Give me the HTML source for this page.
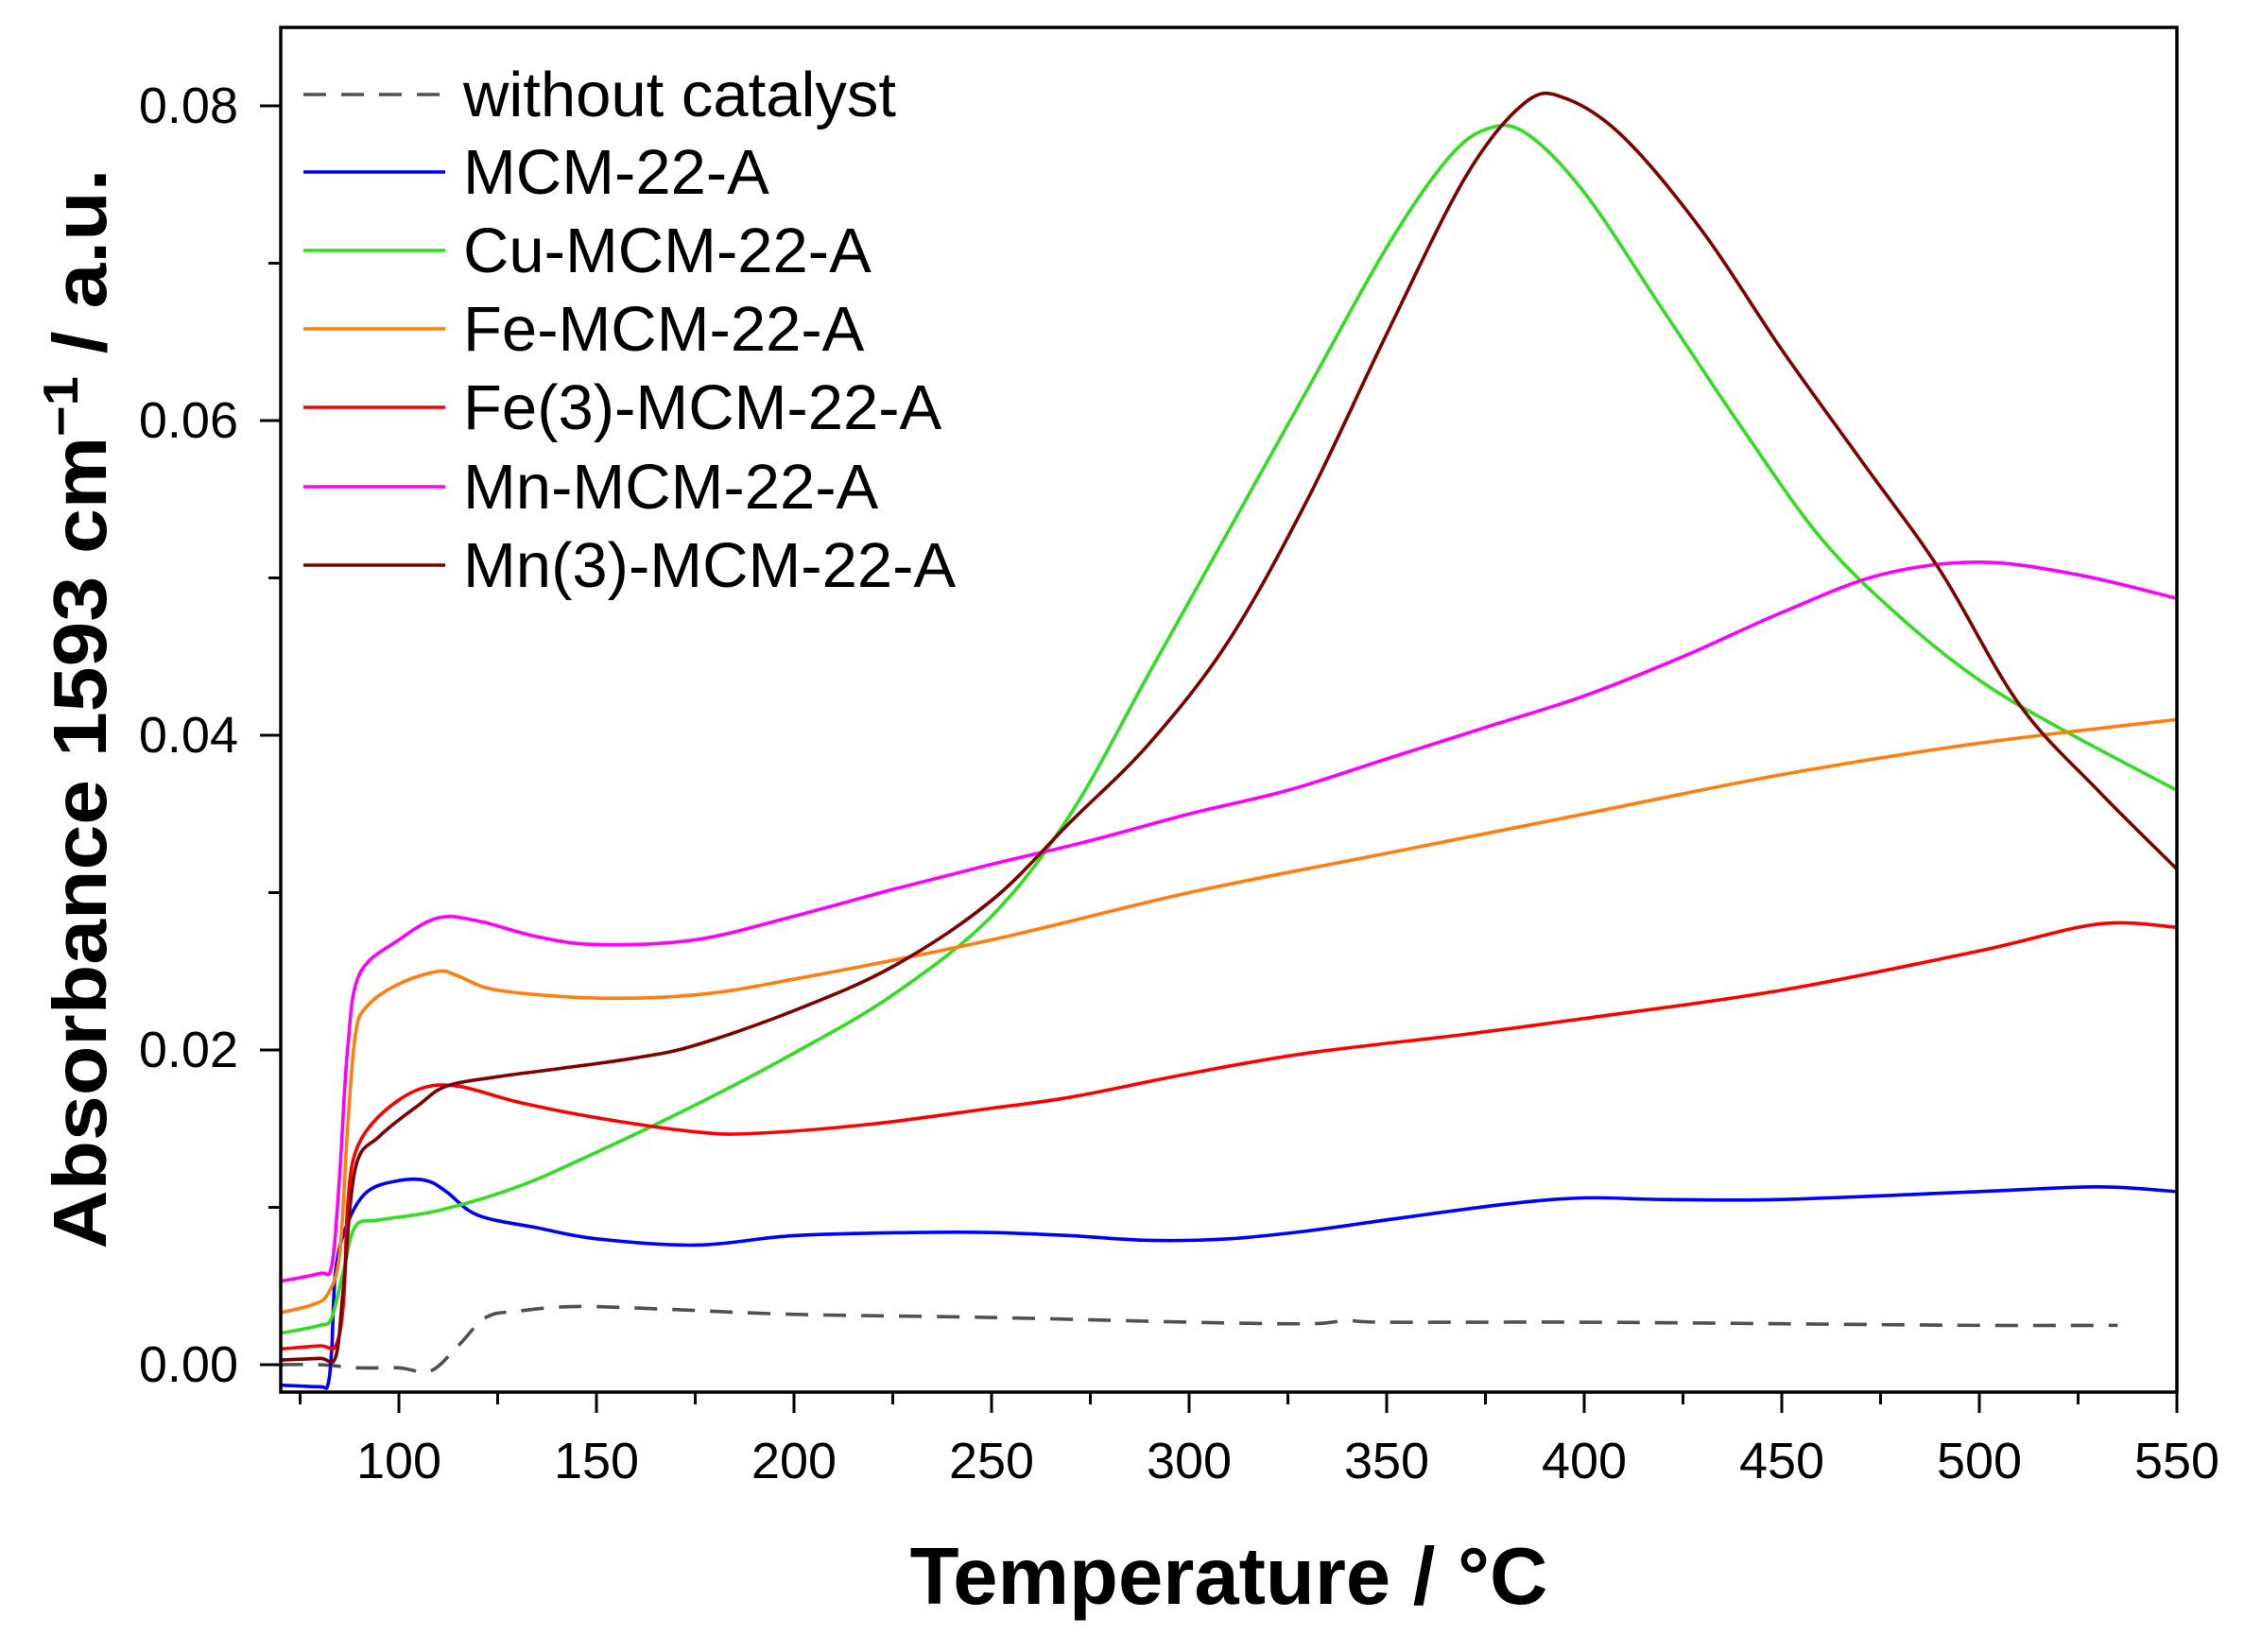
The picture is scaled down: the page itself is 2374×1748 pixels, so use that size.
<!DOCTYPE html>
<html><head><meta charset="utf-8"><style>
html,body{margin:0;padding:0;background:#fff;}
svg{display:block;font-family:"Liberation Sans",Arial,sans-serif;}
</style></head><body>
<svg id="s" width="2374" height="1748" viewBox="0 0 2374 1748" xmlns="http://www.w3.org/2000/svg">
<rect width="2374" height="1748" fill="#fff"/>
<g id="curves" fill="none" stroke-width="3.6" stroke-linejoin="round"></g>
<rect x="297" y="29" width="2006" height="1444" fill="none" stroke="#000" stroke-width="3.5"/>
<g id="ticks" stroke="#000" stroke-width="3"></g>
<g font-size="54" text-anchor="end" fill="#000">
<text x="252" y="1462">0.00</text>
<text x="252" y="1129">0.02</text>
<text x="252" y="796">0.04</text>
<text x="252" y="463">0.06</text>
<text x="252" y="130">0.08</text>
</g>
<g font-size="54" text-anchor="middle" fill="#000">
<text x="422" y="1564">100</text><text x="631" y="1564">150</text><text x="840" y="1564">200</text>
<text x="1049" y="1564">250</text><text x="1258" y="1564">300</text><text x="1467" y="1564">350</text>
<text x="1676" y="1564">400</text><text x="1885" y="1564">450</text><text x="2094" y="1564">500</text>
<text x="2303" y="1564">550</text>
</g>
<text x="1300" y="1697" font-size="85" font-weight="bold" text-anchor="middle">Temperature / °C</text>
<text transform="translate(112,750) rotate(-90)" font-size="80" font-weight="bold" text-anchor="middle" textLength="1143" lengthAdjust="spacingAndGlyphs">Absorbance 1593 cm<tspan dy="-30" font-size="52">−1</tspan><tspan dy="30"> / a.u.</tspan></text>
<g stroke-width="3.6">
<line x1="321" y1="100" x2="471" y2="100" stroke="#505050" stroke-dasharray="24,16"/>
<line x1="321" y1="182" x2="471" y2="182" stroke="#0000ff"/>
<line x1="321" y1="265" x2="471" y2="265" stroke="#33dd22"/>
<line x1="321" y1="348" x2="471" y2="348" stroke="#ff7f0e"/>
<line x1="321" y1="431" x2="471" y2="431" stroke="#ff0000"/>
<line x1="321" y1="515" x2="471" y2="515" stroke="#ff00ff"/>
<line x1="321" y1="598" x2="471" y2="598" stroke="#800000"/>
</g>
<g font-size="67" fill="#000">
<text x="490" y="123">without catalyst</text>
<text x="490" y="205">MCM-22-A</text>
<text x="490" y="288">Cu-MCM-22-A</text>
<text x="490" y="371">Fe-MCM-22-A</text>
<text x="490" y="454">Fe(3)-MCM-22-A</text>
<text x="490" y="538">Mn-MCM-22-A</text>
<text x="490" y="621">Mn(3)-MCM-22-A</text>
</g>
</svg>
<script>
var X=function(t){return 422+(t-100)*209/50;},Y=function(v){return 1444-v*16650;};
var ns="http://www.w3.org/2000/svg";
var tk=document.getElementById('ticks'),d='';
for(var t=75;t<=550;t+=25){var maj=(t%50==0);d+='M'+X(t)+' 1473V'+(1473+(maj?22:13));}
for(var v=0;v<=0.08001;v+=0.01){var maj=(Math.round(v*100)%2==0);var y=Y(v);d+='M297 '+y+'H'+(297-(maj?22:13));}
var p=document.createElementNS(ns,'path');p.setAttribute('d',d);tk.appendChild(p);
var S=[
["#505050","24,16",[[70,0],[80,0],[90,-0.0002],[100,-0.0002],[108,-0.0004],[115,0.0012],[122,0.003],[130,0.0034],[145,0.0037],[170,0.0035],[200,0.0032],[250,0.003],[300,0.0027],[330,0.0026],[340,0.0028],[350,0.0027],[400,0.0027],[450,0.0026],[500,0.0025],[535,0.0025]]],
["#0000ff","",[[70,-0.0013],[80,-0.0014],[82,-0.0013],[83,0.001],[84,0.006],[87,0.009],[92,0.011],[100,0.0117],[107,0.0117],[112,0.011],[120,0.0095],[135,0.0087],[150,0.008],[175,0.0076],[200,0.0082],[230,0.0084],[250,0.0084],[270,0.0082],[290,0.0079],[310,0.008],[330,0.0085],[350,0.0092],[380,0.0102],[400,0.0106],[420,0.0105],[450,0.0105],[500,0.011],[530,0.0113],[550,0.011]]],
["#33dd22","",[[70,0.002],[80,0.0025],[83,0.003],[86,0.006],[89,0.0088],[95,0.0092],[110,0.0098],[130,0.0113],[150,0.0135],[175,0.0165],[200,0.0198],[225,0.0235],[250,0.0285],[270,0.035],[290,0.044],[310,0.053],[330,0.062],[350,0.071],[365,0.0765],[375,0.0785],[385,0.0783],[400,0.0745],[420,0.067],[440,0.0595],[460,0.0525],[480,0.0475],[500,0.0435],[520,0.0405],[550,0.0365]]],
["#ff7f0e","",[[70,0.0033],[78,0.0038],[82,0.0045],[85,0.007],[87,0.015],[89,0.021],[92,0.0228],[100,0.0242],[110,0.025],[115,0.0247],[125,0.0238],[150,0.0233],[175,0.0235],[200,0.0245],[250,0.027],[300,0.03],[350,0.0325],[400,0.035],[450,0.0375],[500,0.0395],[550,0.041]]],
["#ff0000","",[[70,0.001],[80,0.0012],[84,0.0012],[86,0.004],[87,0.01],[89,0.0135],[95,0.0158],[105,0.0175],[115,0.0177],[130,0.0167],[150,0.0157],[175,0.0148],[190,0.0147],[220,0.0153],[250,0.0163],[270,0.017],[300,0.0185],[330,0.0198],[370,0.021],[400,0.022],[450,0.0238],[500,0.0263],[530,0.028],[550,0.0278]]],
["#ff00ff","",[[70,0.0053],[80,0.0058],[83,0.0063],[85,0.012],[87,0.02],[90,0.0248],[100,0.027],[110,0.0284],[120,0.0282],[135,0.0272],[150,0.0267],[175,0.027],[200,0.0285],[225,0.0302],[250,0.0318],[275,0.0333],[300,0.035],[325,0.0365],[350,0.0385],[375,0.0405],[400,0.0425],[425,0.045],[450,0.0478],[475,0.0502],[500,0.051],[525,0.0502],[550,0.0487]]],
["#800000","",[[70,0.0003],[80,0.0004],[84,0.0005],[86,0.005],[89,0.0125],[95,0.0145],[105,0.0165],[112,0.0177],[125,0.0183],[140,0.0188],[160,0.0195],[175,0.0203],[200,0.0225],[225,0.0253],[250,0.0295],[270,0.0345],[290,0.0395],[310,0.046],[330,0.055],[350,0.0655],[370,0.0755],[385,0.0802],[395,0.0805],[410,0.078],[430,0.072],[450,0.0645],[470,0.0575],[490,0.0505],[510,0.042],[530,0.0365],[550,0.0315]]]
];
var g=document.getElementById('curves');
S.forEach(function(s){var pts=s[2].map(function(q){return [X(q[0]),Y(q[1])];});
var dd='M'+pts[0][0]+' '+pts[0][1];
for(var i=0;i<pts.length-1;i++){var p0=pts[i-1]||pts[i],p1=pts[i],p2=pts[i+1],p3=pts[i+2]||p2;
var c1x=p1[0]+(p2[0]-p0[0])/6,c1y=p1[1]+(p2[1]-p0[1])/6,c2x=p2[0]-(p3[0]-p1[0])/6,c2y=p2[1]-(p3[1]-p1[1])/6;
dd+='C'+c1x+' '+c1y+' '+c2x+' '+c2y+' '+p2[0]+' '+p2[1];}
var e=document.createElementNS(ns,'path');e.setAttribute('d',dd);e.setAttribute('stroke',s[0]);if(s[1])e.setAttribute('stroke-dasharray',s[1]);g.appendChild(e);});
</script>
</body></html>
